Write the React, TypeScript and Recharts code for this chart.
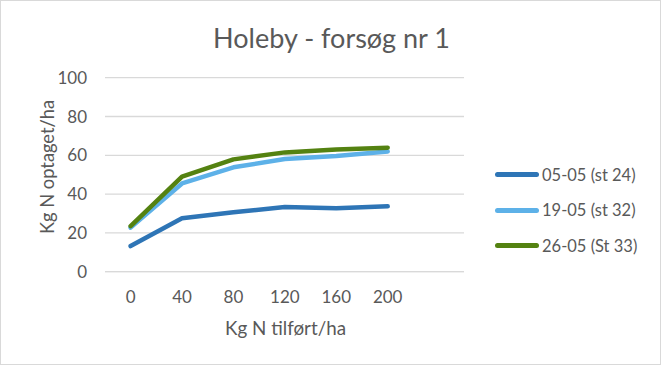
import { LineChart, Line, XAxis, YAxis, CartesianGrid } from 'recharts';

const categories = ['0', '40', '80', '120', '160', '200'];
const st24 = [13.2, 27.5, 30.6, 33.3, 32.7, 33.7];
const st32 = [22.7, 45.5, 53.8, 58.1, 59.6, 62.0];
const st33 = [23.5, 49.0, 57.9, 61.5, 63.0, 63.9];
const yTicks = [0, 20, 40, 60, 80, 100];

const series = [
  { key: 'a', name: '05-05 (st 24)', color: '#2E75B6' },
  { key: 'b', name: '19-05 (st 32)', color: '#5DB1E8' },
  { key: 'c', name: '26-05 (St 33)', color: '#548211' },
];

const data = categories.map((c, i) => ({ x: c, a: st24[i], b: st32[i], c: st33[i] }));

const FONT = 'Lato, "Open Sans", sans-serif';
const textColor = '#595959';
const gridColor = '#d9d9d9';

function LegendBox() {
  return (
    <div style={{ position: 'absolute', left: 494, top: 156, fontSize: 16.5, color: textColor }}>
      {series.map(s => (
        <div key={s.key} style={{ display: 'flex', alignItems: 'center', height: 35.5 }}>
          <div style={{ width: 44, height: 5, borderRadius: 3, background: s.color, marginRight: 3 }} />
          <span>{s.name}</span>
        </div>
      ))}
    </div>
  );
}

export default function App() {
  return (
    <div style={{ position: 'absolute', left: 0, top: 0, width: 661, height: 365, background: '#fff', border: `1px solid ${gridColor}`, boxSizing: 'border-box', fontFamily: FONT }}>
      <LineChart
        width={661}
        height={365}
        data={data}
        margin={{ top: 77.7, right: 197, bottom: 0, left: 0 }}
        style={{ position: 'absolute', left: -1, top: -1 }}
      >
        <CartesianGrid vertical={false} stroke={gridColor} strokeWidth={1.3} />
        <XAxis
          dataKey="x"
          height={93.3}
          axisLine={{ stroke: gridColor }}
          tickLine={false}
          tickSize={0}
          tickMargin={19}
          padding={{ left: 25.6, right: 76.3 }}
          tick={{ fill: textColor, fontSize: 17, fontFamily: FONT }}
        />
        <YAxis
          width={105}
          domain={[0, 100]}
          ticks={yTicks}
          axisLine={false}
          tickLine={false}
          tickSize={0}
          tickMargin={18}
          tick={{ fill: textColor, fontSize: 17, fontFamily: FONT }}
        />
        {series.map(s => (
          <Line
            key={s.key}
            dataKey={s.key}
            name={s.name}
            stroke={s.color}
            strokeWidth={4.5}
            strokeLinecap="round"
            strokeLinejoin="round"
            dot={false}
            isAnimationActive={false}
          />
        ))}
      </LineChart>
      <div style={{ position: 'absolute', left: 0, width: 661, top: 20, textAlign: 'center', fontSize: 27, lineHeight: '34px', color: textColor }}>
        Holeby - forsøg nr 1
      </div>
      <div style={{ position: 'absolute', left: 46, top: 166, transform: 'translate(-50%, -50%) rotate(-90deg)', whiteSpace: 'nowrap', fontSize: 18.3, color: textColor }}>
        Kg N optaget/ha
      </div>
      <div style={{ position: 'absolute', left: 0, width: 569, top: 315, textAlign: 'center', fontSize: 18.8, color: textColor }}>
        Kg N tilført/ha
      </div>
      <LegendBox />
    </div>
  );
}
